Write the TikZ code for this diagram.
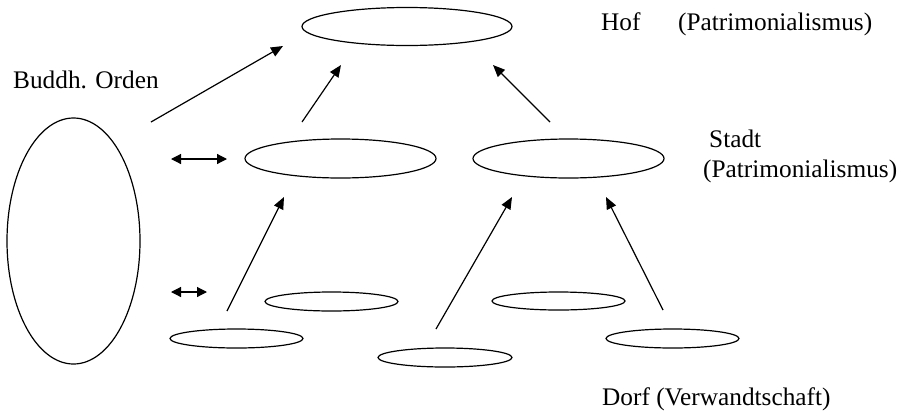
\documentclass[tikz,border=0pt]{standalone}
\usepackage{fontspec}
\setmainfont{Liberation Serif}
\usetikzlibrary{shapes.geometric,arrows.meta}
\begin{document}
\begin{tikzpicture}[x=1pt,y=-1pt,
  ell/.style={draw,ellipse,line width=1.2pt,inner sep=0pt},
  lbl/.style={anchor=base west,inner sep=0pt,font=\fontsize{25.3}{30}\selectfont},
  arr/.style={line width=1.2pt,-{Triangle[length=12pt,width=10pt]}},
  darr/.style={line width=1.2pt,{Triangle[length=10pt,width=10pt]}-{Triangle[length=10pt,width=10pt]}}]
\useasboundingbox (0,0) rectangle (899,410);
% ellipses
\node[ell,minimum width=210pt,minimum height=38pt] (hof) at (407,26.5) {};
\node[ell,minimum width=133pt,minimum height=246pt] (orden) at (73.5,241) {};
\node[ell,minimum width=191pt,minimum height=39pt] (stadtL) at (340.5,158.5) {};
\node[ell,minimum width=191pt,minimum height=39pt] (stadtR) at (568.5,158.5) {};
\node[ell,minimum width=133pt,minimum height=19pt] (d1) at (331.5,301.5) {};
\node[ell,minimum width=133pt,minimum height=19pt] (d2) at (236.5,338.5) {};
\node[ell,minimum width=134pt,minimum height=19pt] (d3) at (445,357.5) {};
\node[ell,minimum width=133pt,minimum height=18pt] (d4) at (558.5,301) {};
\node[ell,minimum width=133pt,minimum height=19pt] (d5) at (672.5,338.5) {};
% labels
\node[lbl] (thof) at (601,30) {Hof};
\node[lbl] (thofp) at (678,30) {(Patrimonialismus)};
\node[lbl] (torden) at (13,88) {Buddh. Orden};
\node[lbl] (tstadt) at (709,147) {Stadt};
\node[lbl] (tstadtp) at (703,177) {(Patrimonialismus)};
\node[lbl] (tdorf) at (602,405) {Dorf (Verwandtschaft)};
% arrow endpoints
\coordinate (a1s) at (151,122); \coordinate (a1e) at (283,46);
\coordinate (a2s) at (302,122); \coordinate (a2e) at (341,65);
\coordinate (a3s) at (550,122); \coordinate (a3e) at (493,65);
\coordinate (a4s) at (227,311); \coordinate (a4e) at (284,197);
\coordinate (a5s) at (436,329); \coordinate (a5e) at (512,197);
\coordinate (a6s) at (663,310); \coordinate (a6e) at (606,197);
\coordinate (b1s) at (171,159); \coordinate (b1e) at (227,159);
\coordinate (b2s) at (171,292); \coordinate (b2e) at (207,292);
% arrows
\draw[arr] (a1s) -- (a1e);
\draw[arr] (a2s) -- (a2e);
\draw[arr] (a3s) -- (a3e);
\draw[arr] (a4s) -- (a4e);
\draw[arr] (a5s) -- (a5e);
\draw[arr] (a6s) -- (a6e);
\draw[darr] (b1s) -- (b1e);
\draw[darr] (b2s) -- (b2e);
\end{tikzpicture}
\end{document}
